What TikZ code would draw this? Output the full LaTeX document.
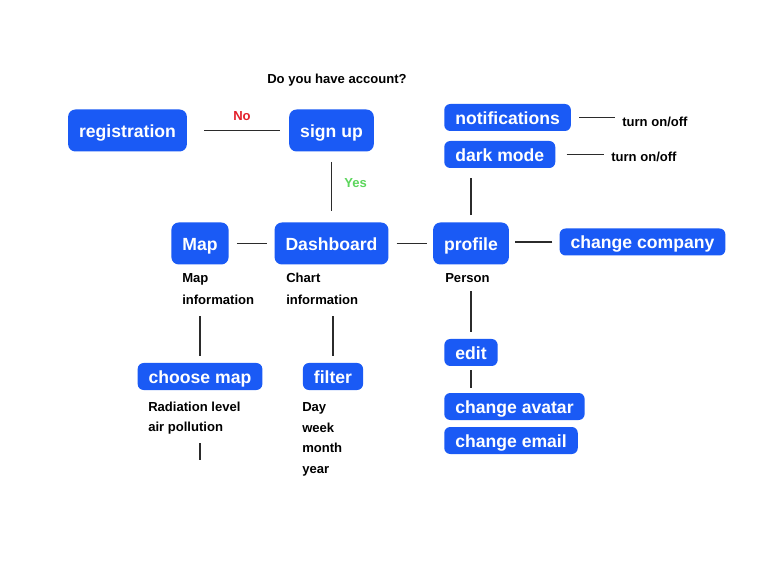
\documentclass[tikz,border=0pt]{standalone}
\usepackage{fontspec}
\setmainfont{Liberation Sans}
\usetikzlibrary{positioning}
\definecolor{appblue}{HTML}{1A5AF5}
\definecolor{nored}{HTML}{E3202B}
\definecolor{yesgreen}{HTML}{5CD65C}
\definecolor{linegray}{HTML}{2B2B2B}

\begin{document}
\begin{tikzpicture}[
  x=0.75pt, y=-0.75pt,
  box/.style={fill=appblue, text=white, rounded corners=4.5pt,
    inner xsep=8.25pt, inner ysep=0pt, minimum height=20.25pt,
    text height=12pt, text depth=1.8pt,
    font=\fontsize{13.2}{15}\selectfont\bfseries},
  bigbox/.style={box, minimum height=31.5pt, rounded corners=5.5pt},
  note/.style={anchor=base west, inner sep=0pt,
    font=\fontsize{9.8}{12}\selectfont\bfseries},
  link/.style={draw=linegray, line width=1.1pt}
]
  \fill[white] (0,0) rectangle (767,573);
  \useasboundingbox (0,0) rectangle (767,573);

  % Question
  \node[note] (question) at (267,84) {Do you have account?};
  \node[bigbox] (reg) at (127.5,130.5) {registration};
  \node[bigbox] (signup) at (331.5,130.5) {sign up};
  \draw[link] ([xshift=12.75pt]reg.east) -- ([xshift=-6.75pt]signup.west);
  \node[note, text=nored] (no) at (233,121) {No};
  \node[note, text=yesgreen] (yes) at (344,188) {Yes};

  % Main row
  \node[bigbox] (map) at (200,243.5) {Map};
  \node[bigbox] (dash) at (331.5,243.5) {Dashboard};
  \node[bigbox] (profile) at (471,243.5) {profile};
  \node[box] (company) at (642.5,242) {change company};
  \draw[link] ([yshift=-7.5pt]signup.south) -- ([yshift=8.25pt]dash.north);
  \draw[link] ([xshift=6pt]map.east) -- ([xshift=-5.25pt]dash.west);
  \draw[link] ([xshift=6pt]dash.east) -- ([xshift=-4.5pt]profile.west);
  \draw[link] ([xshift=-5.25pt]company.west) -- ++(-37,0);

  % Settings
  \node[box, anchor=west] (notif) at (444,117.5) {notifications};
  \node[box, anchor=west] (dark) at (444,154.5) {dark mode};
  \node[note] (toggle1) at (622,126.7) {turn on/off};
  \node[note] (toggle2) at (611,161.7) {turn on/off};
  \draw[link] ([xshift=6pt]notif.east) -- ++(36,0);
  \draw[link] ([xshift=8.25pt]dark.east) -- ++(37,0);
  \draw[link] ([yshift=5.25pt]profile.north) -- ++(0,-37);

  % Map branch
  \node[note] (mapinfo1) at (182,283) {Map};
  \node[note] (mapinfo2) at (182,305) {information};
  \node[box] (chmap) at (200,376.5) {choose map};
  \draw[link] ([yshift=5.25pt]chmap.north) -- ++(0,-40);
  \node[note] (rad) at (148,411.7) {Radiation level};
  \node[note] (air) at (148,431.7) {air pollution};
  \draw[link] (air.base -| chmap.center) ++(0,11.3) -- ++(0,17);

  % Chart branch
  \node[note] (chart1) at (286,283) {Chart};
  \node[note] (chart2) at (286,305) {information};
  \node[box] (filter) at (333,376.5) {filter};
  \draw[link] ([yshift=5.25pt]filter.north) -- ++(0,-40);
  \foreach \w [count=\i from 0] in {Day,week,month,year} {
    \node[note] (period\i) at (302,411.7+\i*20.5) {\w};
  }

  % Profile branch
  \node[note] (person) at (445,283) {Person};
  \node[box] (edit) at (471,352.5) {edit};
  \draw[link] ([yshift=5.25pt]edit.north) -- ++(0,-41);
  \node[box, anchor=west] (avatar) at (444,406.5) {change avatar};
  \node[box, anchor=west] (email) at (444,440.5) {change email};
  \draw[link] ([yshift=-3pt]edit.south) -- ++(0,18);
\end{tikzpicture}
\end{document}
